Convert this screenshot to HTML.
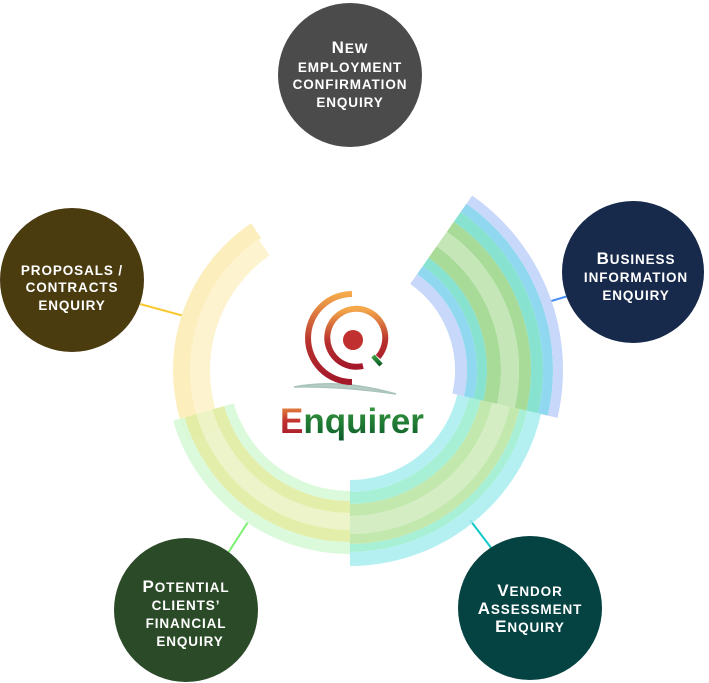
<!DOCTYPE html>
<html><head><meta charset="utf-8"><style>
html,body{margin:0;padding:0;background:#fff;}
svg{display:block}
.t{font-family:"Liberation Sans",sans-serif;font-weight:bold;font-size:13.5px;letter-spacing:0.9px;fill:#fff;text-anchor:middle}
.c{font-size:17px}
</style></head><body>
<svg width="709" height="683" viewBox="0 0 709 683" xmlns="http://www.w3.org/2000/svg">
<defs>
<linearGradient id="lg" x1="0" y1="0" x2="0" y2="1">
<stop offset="0" stop-color="#f5a94a"/><stop offset="0.55" stop-color="#b8322e"/><stop offset="1" stop-color="#a4182a"/>
</linearGradient>
<linearGradient id="gg" x1="0" y1="0" x2="0" y2="1">
<stop offset="0" stop-color="#3aa040"/><stop offset="1" stop-color="#0b5a2a"/>
</linearGradient>
<linearGradient id="eg" x1="0" y1="0" x2="0" y2="1">
<stop offset="0" stop-color="#f0a040"/><stop offset="0.5" stop-color="#c03030"/><stop offset="1" stop-color="#a01828"/>
</linearGradient>
</defs>
<g fill="none">
<line x1="140" y1="304" x2="184" y2="316" stroke="#f8c830" stroke-width="2"/>
<line x1="548" y1="302" x2="568" y2="296" stroke="#4a8ef0" stroke-width="2"/>
<line x1="228" y1="553" x2="248" y2="522" stroke="#7af070" stroke-width="2"/>
<line x1="470" y1="520" x2="492" y2="549" stroke="#10c8c8" stroke-width="2"/>

<g transform="rotate(156 350 370)">
<circle cx="350" cy="370" r="168" pathLength="360" stroke="#fdeebd" stroke-width="18" stroke-dasharray="80 360"/>
<circle cx="350" cy="370" r="150" pathLength="360" stroke="#fdf3cf" stroke-width="20" stroke-dasharray="79 360"/>
</g>

<g transform="rotate(90 350 370)">
<circle cx="350" cy="370" r="126" pathLength="360" stroke="#d8fad8" stroke-width="10" stroke-dasharray="74 360" opacity="0.92"/>
<circle cx="350" cy="370" r="137" pathLength="360" stroke="#e2eda4" stroke-width="12" stroke-dasharray="74 360" opacity="0.92"/>
<circle cx="350" cy="370" r="152" pathLength="360" stroke="#edf3c4" stroke-width="18" stroke-dasharray="74 360" opacity="0.92"/>
<circle cx="350" cy="370" r="166" pathLength="360" stroke="#e2eda4" stroke-width="12" stroke-dasharray="74 360" opacity="0.92"/>
<circle cx="350" cy="370" r="178" pathLength="360" stroke="#d8fad8" stroke-width="12" stroke-dasharray="74 360" opacity="0.92"/>
</g>

<g transform="rotate(305 350 370)">
<circle cx="350" cy="370" r="111" pathLength="360" stroke="#c8d8fa" stroke-width="12" stroke-dasharray="68 360"/>
<circle cx="350" cy="370" r="122" pathLength="360" stroke="#90d8f0" stroke-width="10" stroke-dasharray="68 360"/>
<circle cx="350" cy="370" r="132" pathLength="360" stroke="#88e2d0" stroke-width="10" stroke-dasharray="68 360"/>
<circle cx="350" cy="370" r="144" pathLength="360" stroke="#a8da98" stroke-width="14" stroke-dasharray="68 360"/>
<circle cx="350" cy="370" r="160" pathLength="360" stroke="#c5e7b8" stroke-width="18" stroke-dasharray="68 360"/>
<circle cx="350" cy="370" r="175" pathLength="360" stroke="#a8da98" stroke-width="12" stroke-dasharray="68 360"/>
<circle cx="350" cy="370" r="187" pathLength="360" stroke="#88e2d0" stroke-width="12" stroke-dasharray="68 360"/>
<circle cx="350" cy="370" r="198" pathLength="360" stroke="#90d8f0" stroke-width="10" stroke-dasharray="68 360"/>
<circle cx="350" cy="370" r="208" pathLength="360" stroke="#c8d8fa" stroke-width="10" stroke-dasharray="68 360"/>
</g>

<g transform="rotate(13 350 370)" opacity="0.85">
<circle cx="350" cy="370" r="116" pathLength="360" stroke="#a8eef0" stroke-width="12" stroke-dasharray="77 360"/>
<circle cx="350" cy="370" r="128" pathLength="360" stroke="#98eed0" stroke-width="12" stroke-dasharray="77 360"/>
<circle cx="350" cy="370" r="140" pathLength="360" stroke="#b8e4a0" stroke-width="12" stroke-dasharray="77 360"/>
<circle cx="350" cy="370" r="155" pathLength="360" stroke="#cdeab8" stroke-width="18" stroke-dasharray="77 360"/>
<circle cx="350" cy="370" r="169" pathLength="360" stroke="#b8e4a0" stroke-width="10" stroke-dasharray="77 360"/>
<circle cx="350" cy="370" r="178" pathLength="360" stroke="#98eed0" stroke-width="8" stroke-dasharray="77 360"/>
<circle cx="350" cy="370" r="189" pathLength="360" stroke="#a8eef0" stroke-width="14" stroke-dasharray="77 360"/>
</g>

<path d="M294 387 Q340 378 396 394 Q340 386 294 387 Z" fill="#b8ccc4" stroke="#a8c4bc" stroke-width="1.5"/>
<path d="M352 294 A44 44 0 0 0 352 382" stroke="url(#lg)" stroke-width="6"/>
<line x1="306" y1="338" x2="325" y2="338" stroke="url(#lg)" stroke-width="5"/>
<path d="M378 357 A29 29 0 1 0 363 366" stroke="url(#lg)" stroke-width="6"/>
<circle cx="353" cy="340" r="10" fill="#c0302e"/>
<line x1="373" y1="356" x2="381" y2="365" stroke="url(#gg)" stroke-width="4.5"/>
</g>
<text x="280" y="433" font-family="Liberation Sans,sans-serif" font-weight="bold" font-size="35"><tspan fill="url(#eg)">E</tspan><tspan fill="url(#gg)">nquirer</tspan></text>

<circle cx="350" cy="75" r="72" fill="#4b4b4b"/>
<text class="t"><tspan x="350" y="53"><tspan class="c">N</tspan>EW</tspan><tspan x="350" y="72">EMPLOYMENT</tspan><tspan x="350" y="89">CONFIRMATION</tspan><tspan x="350" y="107">ENQUIRY</tspan></text>

<circle cx="72" cy="280" r="72" fill="#4b3c10"/>
<text class="t"><tspan x="72" y="275">PROPOSALS /</tspan><tspan x="72" y="292">CONTRACTS</tspan><tspan x="72" y="310">ENQUIRY</tspan></text>

<circle cx="633" cy="272" r="71" fill="#172a4c"/>
<text class="t"><tspan x="636" y="264"><tspan class="c">B</tspan>USINESS</tspan><tspan x="636" y="282">INFORMATION</tspan><tspan x="636" y="300">ENQUIRY</tspan></text>

<circle cx="186" cy="610" r="72" fill="#2b4b28"/>
<text class="t"><tspan x="186" y="592"><tspan class="c">P</tspan>OTENTIAL</tspan><tspan x="186" y="610">CLIENTS’</tspan><tspan x="186" y="628">FINANCIAL</tspan><tspan x="190" y="646">ENQUIRY</tspan></text>

<circle cx="530" cy="608" r="72" fill="#054242"/>
<text class="t"><tspan x="530" y="596"><tspan class="c">V</tspan>ENDOR</tspan><tspan x="530" y="614"><tspan class="c">A</tspan>SSESSMENT</tspan><tspan x="530" y="632"><tspan class="c">E</tspan>NQUIRY</tspan></text>
</svg>
</body></html>
